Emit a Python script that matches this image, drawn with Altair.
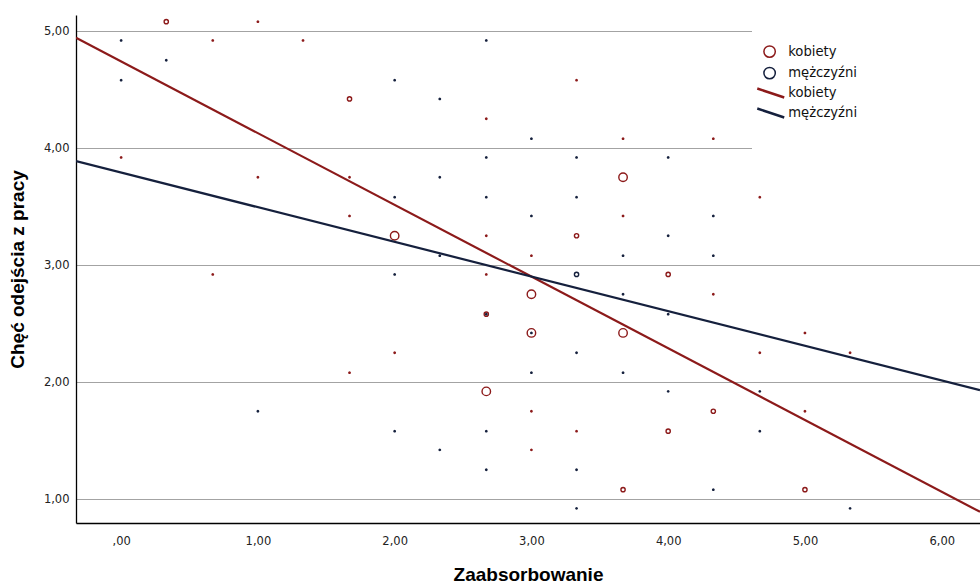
import altair as alt
import pandas as pd

RED = "#8c1a1a"
NAVY = "#15203d"
GROUPS = ["kobiety", "mężczyźni"]

# Scatter: x = Zaabsorbowanie, y = Chęć odejścia z pracy, group, number of cases at that point
pt_x = [0.33, 1.67, 3.67, 2.0, 3.33, 3.0, 2.67, 3.0, 3.67, 2.67, 3.67, 4.0, 4.33, 4.0, 5.0, 3.33,
        1.0, 0.0, 0.67, 1.33, 0.33, 0.0, 0.0, 1.0, 2.67, 2.0, 3.33, 2.33, 2.67, 3.0, 3.67,
        2.67, 3.33, 1.67, 2.33, 2.0, 2.67, 3.33, 1.67, 3.0, 3.67, 2.67, 2.33, 3.0, 3.67,
        4.33, 4.0, 4.67, 4.33, 4.0, 4.33, 0.67, 1.0, 2.0, 2.67, 3.67, 2.67, 3.0, 2.0, 3.33,
        1.67, 3.0, 3.67, 3.0, 2.0, 2.67, 3.33, 2.33, 3.0, 2.67, 3.33, 3.33, 4.33, 4.0, 5.0,
        4.67, 5.33, 4.0, 4.67, 5.0, 4.67, 4.33, 5.33]
pt_y = [5.08, 4.42, 3.75, 3.25, 3.25, 2.75, 2.58, 2.42, 2.42, 1.92, 1.08, 2.92, 1.75, 1.58, 1.08, 2.92,
        5.08, 4.92, 4.92, 4.92, 4.75, 4.58, 3.92, 3.75, 4.92, 4.58, 4.58, 4.42, 4.25, 4.08, 4.08,
        3.92, 3.92, 3.75, 3.75, 3.58, 3.58, 3.58, 3.42, 3.42, 3.42, 3.25, 3.08, 3.08, 3.08,
        4.08, 3.92, 3.58, 3.42, 3.25, 3.08, 2.92, 1.75, 2.92, 2.92, 2.75, 2.58, 2.42, 2.25, 2.25,
        2.08, 2.08, 2.08, 1.75, 1.58, 1.58, 1.58, 1.42, 1.42, 1.25, 1.25, 0.92, 2.75, 2.58, 2.42,
        2.25, 2.25, 1.92, 1.92, 1.75, 1.58, 1.08, 0.92]
K, M = GROUPS
pt_group = [K, K, K, K, K, K, K, K, K, K, K, K, K, K, K, M,
            K, M, K, K, M, M, K, K, M, M, K, M, K, M, K,
            M, M, K, M, M, M, M, K, M, K, K, M, K, M,
            K, M, K, M, M, M, K, M, M, K, M, M, M, K, M,
            K, M, M, K, M, M, K, M, K, M, M, M, K, M, K,
            K, K, M, M, K, M, M, M]
pt_count = [2, 2, 3, 3, 2, 3, 2, 3, 3, 3, 2, 2, 2, 2, 2, 2] + [1] * 67

# Linear fits per group
fit_intercept = [4.74, 3.79]
fit_slope = [-0.613, -0.296]

X_MIN, X_MAX = -0.33, 6.28
Y_MIN, Y_MAX = 0.795, 5.137

points = pd.DataFrame({"x": pt_x, "y": pt_y, "g": pt_group, "n": pt_count})
fit_rows = []
for g, a, b in zip(GROUPS, fit_intercept, fit_slope):
    for xv in (X_MIN, X_MAX):
        fit_rows.append({"x": xv, "y": a + b * xv, "fg": g})
fits = pd.DataFrame(fit_rows)

x_scale = alt.Scale(domain=[X_MIN, X_MAX], nice=False, zero=False)
y_scale = alt.Scale(domain=[Y_MIN, Y_MAX], nice=False, zero=False)
color_scale = alt.Scale(range=[RED, NAVY])
stroke_scale = alt.Scale(range=[RED, NAVY])

label_expr = "datum.value == 0 ? ',00' : replace(format(datum.value, '.2f'), '.', ',')"
# legend labels padded with blanks so the white legend box reaches the right edge
pad_expr = "datum.label + '" + "\u00a0" * 27 + "\u2800'"

x_axis = alt.Axis(values=[0, 1, 2, 3, 4, 5, 6], labelExpr=label_expr, grid=False, ticks=False,
                  domainColor="black", domainWidth=1.3, labelFont="DejaVu Sans",
                  labelFontSize=11.5, labelColor="#222", labelPadding=12,
                  title="Zaabsorbowanie", titleFont="Liberation Sans", titleFontSize=19,
                  titleFontWeight="bold", titleColor="black", titlePadding=19)
y_axis = alt.Axis(values=[1, 2, 3, 4, 5], labelExpr=label_expr, grid=True, gridColor="#a3a3a3",
                  gridWidth=1.2, ticks=False, domainColor="black", domainWidth=1.3,
                  labelFont="DejaVu Sans", labelFontSize=11.5, labelColor="#222", labelPadding=7,
                  title="Chęć odejścia z pracy", titleFont="Liberation Sans", titleFontSize=19,
                  titleFontWeight="bold", titleColor="black", titlePadding=16)

color_legend = alt.Legend(title="\u00a0", titleFontSize=10, titlePadding=4, orient="none",
                          legendX=676, legendY=13, padding=3, fillColor="white", zindex=2,
                          symbolType="circle", symbolSize=130, symbolStrokeWidth=1.5,
                          symbolOffset=8, labelOffset=12, labelFont="DejaVu Sans",
                          labelFontSize=13.2, labelColor="#111", labelLimit=600,
                          labelExpr=pad_expr, rowPadding=2.5)
stroke_legend = alt.Legend(title="\u00a0", titleOrient="bottom", titleFontSize=26, titlePadding=4,
                           orient="none", legendX=676, legendY=67, padding=3, fillColor="white",
                           zindex=1,
                           symbolType="M-2,-0.66L2,0.66", symbolSize=182, symbolStrokeWidth=2.5,
                           symbolOffset=7.75, labelOffset=9.5, labelFont="DejaVu Sans",
                           labelFontSize=13.2, labelColor="#111", labelLimit=600,
                           labelExpr=pad_expr, rowPadding=0)

pts = alt.Chart(points).mark_point(filled=False, strokeWidth=1.4, opacity=1).encode(
    x=alt.X("x:Q", scale=x_scale, axis=x_axis),
    y=alt.Y("y:Q", scale=y_scale, axis=y_axis),
    color=alt.Color("g:N", scale=color_scale, legend=color_legend),
    size=alt.Size("n:Q", scale=alt.Scale(type="linear", domain=[1, 2, 3], range=[2, 18, 72]),
                  legend=None),
)

lines = alt.Chart(fits).mark_line(strokeWidth=2.2, clip=True).encode(
    x=alt.X("x:Q", scale=x_scale),
    y=alt.Y("y:Q", scale=y_scale),
    stroke=alt.Stroke("fg:N", scale=stroke_scale, legend=stroke_legend),
    detail="fg:N",
)

chart = alt.layer(pts, lines).properties(
    width=904, height=508,
    autosize=alt.AutoSizeParams(type="none"),
    padding={"left": 76, "top": 15, "right": 0, "bottom": 61},
    background="white",
).configure_view(strokeWidth=0)

chart.save("out.html", embed_options={"renderer": "svg", "actions": False})
